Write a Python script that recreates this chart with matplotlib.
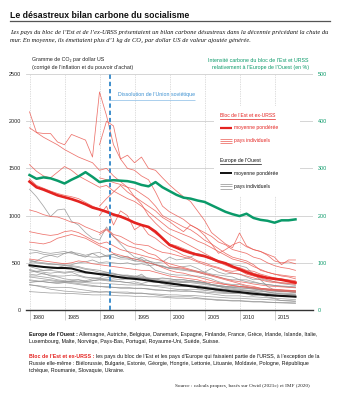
import numpy as np
import matplotlib
matplotlib.use("Agg")
import matplotlib.pyplot as plt
from matplotlib import font_manager as fm
from matplotlib import transforms
from matplotlib.patches import Rectangle
from matplotlib.lines import Line2D


def first_font(names, default):
    for n in names:
        try:
            fm.findfont(fm.FontProperties(family=n), fallback_to_default=False)
            return n
        except ValueError:
            continue
    return default


SANS = first_font(["Liberation Sans Narrow", "Liberation Sans"], "DejaVu Sans")
SERIF = first_font(["Liberation Serif"], "DejaVu Serif")
SANS_F = [SANS, "DejaVu Sans"]
SERIF_F = [SERIF, "DejaVu Serif"]
plt.rcParams["font.family"] = SANS_F

# ---------------------------------------------------------------- data
years = list(range(1980, 2019))
years_post = list(range(1990, 2019))

# weighted averages (g CO2 / USD)
east_avg = [1360, 1300, 1275, 1245, 1215, 1195, 1175, 1150, 1120, 1085,
            1065, 1040, 1010, 990, 960, 925, 900, 880, 830, 760,
            690, 660, 630, 605, 585, 570, 545, 515, 495, 460,
            430, 400, 375, 355, 340, 330, 320, 305, 290]
west_avg = [474, 465, 456, 450, 445, 445, 440, 420, 400, 390,
            380, 372, 358, 346, 336, 330, 322, 312, 302, 292,
            282, 272, 262, 252, 243, 234, 224, 214, 206, 196,
            190, 181, 173, 166, 159, 153, 149, 145, 141]
# east / west ratio (%)
ratio_pct = [286, 278, 281, 279, 274, 268, 276, 283, 292, 282,
             271, 274, 275, 274, 273, 270, 265, 262, 271, 260,
             252, 244, 238, 236, 232, 229, 222, 215, 208, 203,
             199, 204, 195, 191, 189, 185, 190, 190, 192]

# Eastern bloc countries with series from 1980
east_1980 = [
    [2100, 1880, 1870, 1870, 1780, 1750, 1860, 1830, 1800, 1620,
     2310, 2060, 1750, 1600, 1500, 1480, 1420, 1380, 1250, 1100,
     1040, 1000, 960, 900, 860, 820, 780, 720, 690, 640,
     620, 600, 560, 540, 500, 470, 450, 440, 420],
    [1930, 1880, 1830, 1790, 1750, 1700, 1660, 1620, 1590, 1560,
     1480, 1500, 1420, 1360, 1300, 1280, 1230, 1180, 1100, 1000,
     960, 920, 880, 850, 800, 740, 700, 650, 600, 560,
     540, 520, 480, 420, 400, 380, 360, 350, 330],
    [1540, 1470, 1420, 1400, 1460, 1520, 1480, 1420, 1380, 1340,
     1300, 1320, 1260, 1220, 1180, 1150, 1100, 1040, 980, 920,
     860, 830, 800, 770, 730, 700, 660, 620, 580, 540,
     520, 500, 460, 430, 400, 380, 370, 360, 350],
    [1390, 1320, 1290, 1260, 1235, 1215, 1200, 1180, 1140, 1100,
     1070, 1050, 1020, 1000, 965, 930, 905, 870, 810, 760,
     700, 680, 650, 620, 590, 565, 535, 505, 475, 445,
     440, 415, 390, 370, 345, 335, 325, 310, 300],
    [1060, 1040, 1010, 990, 985, 960, 930, 920, 880, 850,
     820, 860, 800, 780, 740, 700, 690, 680, 640, 610,
     600, 580, 560, 540, 510, 480, 460, 440, 410, 390,
     380, 360, 340, 320, 300, 290, 285, 280, 270],
    [830, 815, 800, 790, 800, 830, 840, 820, 780, 740,
     700, 720, 680, 640, 620, 600, 580, 560, 540, 520,
     490, 470, 450, 430, 410, 390, 370, 350, 330, 310,
     300, 290, 275, 265, 255, 250, 245, 240, 235],
    [720, 710, 700, 720, 760, 780, 800, 780, 760, 720,
     680, 650, 600, 580, 560, 540, 520, 500, 480, 450,
     420, 400, 390, 370, 350, 330, 310, 290, 270, 260,
     250, 240, 230, 220, 210, 205, 200, 195, 190],
    [540, 530, 520, 510, 500, 490, 500, 520, 510, 490,
     480, 470, 460, 450, 440, 430, 420, 420, 400, 380,
     360, 350, 340, 330, 320, 300, 290, 280, 270, 260,
     250, 245, 240, 230, 225, 220, 215, 210, 205],
]
# former Soviet republics, series from 1990
east_1990 = [
    [1750, 2000, 1950, 1600, 1640, 1560, 1620, 1500, 1480, 1400,
     1325, 1260, 1200, 1150, 1050, 950, 820, 760, 700, 660,
     816, 680, 640, 620, 590, 560, 480, 530, 530],
    [1100, 1180, 1250, 1320, 1250, 1200, 1150, 1100, 1050, 980,
     936, 880, 830, 900, 860, 790, 700, 600, 640, 690,
     720, 670, 640, 620, 580, 520, 500, 510, 490],
    [1400, 1380, 1350, 1330, 1300, 1200, 1120, 1000, 920, 850,
     800, 760, 720, 680, 640, 600, 560, 520, 480, 460,
     450, 420, 410, 380, 360, 340, 330, 320, 310],
    [800, 850, 780, 720, 680, 660, 640, 600, 580, 520,
     460, 450, 440, 420, 400, 380, 360, 340, 320, 300,
     280, 260, 250, 230, 220, 215, 210, 205, 200],
    [1000, 1100, 900, 1050, 1000, 850, 900, 800, 760, 700,
     650, 620, 580, 560, 520, 500, 470, 450, 420, 410,
     420, 380, 360, 340, 320, 300, 290, 285, 280],
]
# Western Europe countries
west_countries = [
    [1280, 1200, 1100, 990, 1060, 1070, 940, 900, 820, 760,
     740, 880, 780, 700, 620, 560, 540, 480, 420, 400,
     380, 370, 370, 360, 360, 350, 330, 300, 280, 270,
     270, 250, 230, 210, 190, 180, 170, 165, 160],
    [640, 630, 610, 600, 610, 620, 600, 580, 570, 560,
     560, 570, 560, 540, 540, 520, 510, 500, 480, 460,
     440, 430, 420, 410, 400, 380, 370, 350, 330, 320,
     320, 300, 290, 280, 270, 260, 250, 245, 240],
    [600, 610, 590, 580, 590, 600, 610, 600, 580, 600,
     560, 580, 590, 560, 570, 520, 560, 520, 480, 470,
     440, 450, 460, 470, 440, 400, 440, 400, 380, 390,
     380, 350, 320, 330, 310, 300, 280, 270, 260],
    [530, 510, 500, 490, 480, 470, 460, 450, 430, 420,
     400, 400, 390, 370, 360, 350, 340, 330, 310, 300,
     290, 280, 270, 265, 260, 250, 240, 230, 220, 210,
     210, 200, 195, 180, 170, 160, 150, 145, 140],
    [460, 440, 420, 420, 410, 400, 410, 400, 390, 390,
     380, 390, 380, 370, 370, 360, 360, 340, 330, 310,
     300, 300, 295, 300, 290, 280, 270, 260, 250, 250,
     250, 240, 235, 230, 220, 215, 210, 205, 200],
    [400, 410, 420, 430, 450, 470, 480, 500, 510, 530,
     500, 510, 500, 490, 500, 480, 490, 470, 480, 460,
     450, 440, 430, 420, 410, 400, 380, 370, 360, 350,
     320, 320, 300, 280, 270, 260, 255, 250, 245],
    [520, 500, 490, 480, 480, 480, 470, 460, 440, 430,
     420, 400, 380, 370, 360, 350, 350, 330, 320, 310,
     300, 295, 290, 290, 280, 270, 260, 250, 245, 240,
     240, 230, 225, 220, 210, 200, 195, 190, 185],
    [430, 410, 400, 390, 400, 390, 400, 370, 350, 340,
     340, 380, 350, 350, 360, 340, 380, 320, 300, 280,
     260, 250, 250, 260, 230, 210, 220, 200, 190, 190,
     190, 170, 150, 160, 140, 125, 120, 115, 110],
    [420, 400, 380, 370, 360, 360, 370, 360, 340, 340,
     330, 320, 310, 300, 290, 280, 270, 260, 250, 240,
     230, 220, 210, 200, 190, 180, 170, 160, 150, 150,
     150, 140, 140, 135, 130, 120, 100, 95, 90],
    [380, 370, 390, 360, 350, 330, 320, 320, 300, 310,
     320, 310, 300, 300, 290, 300, 280, 300, 290, 300,
     310, 310, 300, 310, 300, 290, 270, 250, 240, 230,
     220, 210, 200, 200, 190, 180, 180, 175, 170],
    [350, 340, 330, 320, 310, 300, 300, 295, 290, 285,
     285, 280, 275, 270, 265, 265, 265, 260, 260, 255,
     255, 250, 250, 255, 250, 240, 230, 225, 215, 210,
     205, 200, 190, 180, 175, 170, 170, 165, 160],
    [320, 310, 300, 290, 290, 290, 280, 270, 260, 250,
     250, 250, 240, 230, 230, 230, 230, 225, 215, 210,
     205, 210, 215, 220, 215, 210, 200, 190, 185, 180,
     180, 175, 170, 165, 160, 155, 155, 150, 150],
    [290, 300, 310, 310, 300, 300, 310, 320, 310, 330,
     330, 340, 350, 340, 340, 350, 340, 330, 330, 340,
     330, 320, 320, 310, 300, 290, 270, 260, 250, 240,
     230, 230, 220, 215, 215, 210, 205, 205, 200],
    [270, 255, 240, 220, 210, 200, 195, 190, 185, 190,
     190, 195, 185, 180, 175, 175, 175, 170, 170, 165,
     160, 160, 155, 155, 150, 145, 140, 135, 130, 125,
     125, 120, 115, 115, 110, 105, 100, 100, 95],
    [265, 260, 250, 240, 240, 240, 235, 220, 210, 200,
     190, 190, 190, 190, 190, 180, 180, 170, 160, 150,
     140, 140, 140, 140, 130, 120, 115, 110, 105, 100,
     100, 95, 90, 90, 85, 80, 80, 78, 75],
    [195, 190, 185, 180, 180, 175, 175, 170, 165, 160,
     160, 160, 155, 150, 150, 145, 145, 140, 140, 135,
     130, 125, 125, 120, 120, 115, 110, 100, 100, 95,
     95, 90, 85, 85, 80, 78, 75, 72, 70],
    [360, 360, 350, 340, 320, 310, 300, 300, 300, 310,
     320, 320, 330, 320, 330, 340, 330, 330, 330, 330,
     330, 320, 320, 310, 300, 290, 270, 250, 230, 220,
     210, 210, 210, 200, 200, 200, 195, 195, 190],
    [310, 300, 300, 290, 280, 290, 290, 280, 270, 260,
     250, 240, 240, 240, 240, 230, 230, 220, 210, 210,
     200, 200, 195, 200, 195, 190, 185, 180, 175, 175,
     175, 170, 165, 160, 155, 150, 145, 145, 140],
    [500, 520, 560, 580, 560, 600, 620, 580, 560, 600,
     610, 570, 590, 560, 550, 540, 530, 520, 500, 510,
     560, 530, 540, 560, 600, 580, 540, 520, 500, 480,
     470, 450, 380, 320, 250, 210, 200, 195, 190],
]

left_ticks = [0, 500, 1000, 1500, 2000, 2500]
right_ticks = [0, 100, 200, 300, 400, 500]
x_ticks = [1980, 1985, 1990, 1995, 2000, 2005, 2010, 2015]
dissolution_year = 1991.5

# ---------------------------------------------------------------- styles
RED = "#e42320"
RED_THIN = "#ea5a52"
GREY_THIN = "#8e8e8e"
GREEN = "#0a9a69"
BLUE = "#2f86c8"
TXT = "#222222"
SMALL = 3.75

W, H = 339, 399
fig = plt.figure(figsize=(W / 100, H / 100), dpi=100)
fig.patch.set_facecolor("white")


def fx(px):
    return px / W


def fy(py):
    return 1 - py / H


ax = fig.add_axes([fx(26), fy(310), fx(313) - fx(26), fy(74) - fy(310)])
ax.set_xlim(1979.5, 2020.5)
ax.set_ylim(0, 2500)
ax2 = ax.twinx()
ax2.set_ylim(0, 500)

for s in ["top", "left", "right"]:
    ax.spines[s].set_visible(False)
    ax2.spines[s].set_visible(False)
ax2.spines["bottom"].set_visible(False)
ax.spines["bottom"].set_color("#333333")
ax.spines["bottom"].set_linewidth(1.0)

ax.set_yticks(left_ticks)
ax.set_yticklabels([str(v) for v in left_ticks])
ax.tick_params(axis="y", length=0, pad=3.6, labelsize=3.9, labelcolor=TXT)
ax2.set_yticks(right_ticks)
ax2.set_yticklabels([str(v) for v in right_ticks])
ax2.tick_params(axis="y", length=0, pad=3.6, labelsize=3.9, labelcolor=GREEN)

ax.set_xticks(x_ticks)
ax.set_xticklabels([str(v) for v in x_ticks])
ax.tick_params(axis="x", length=7.5, width=0.5, color="#bbbbbb",
               pad=-4.2, labelsize=3.9, labelcolor=TXT)
shift = transforms.ScaledTranslation(2.2 / 72, 0, fig.dpi_scale_trans)
for lbl in ax.get_xticklabels():
    lbl.set_horizontalalignment("left")
    lbl.set_transform(lbl.get_transform() + shift)

ax.grid(axis="y", color="#cfcfcf", linewidth=0.6)
ax.grid(axis="x", color="#bdbdbd", linewidth=0.5, linestyle=(0, (1, 1.5)))
ax.set_axisbelow(True)

# individual countries
for vals in west_countries:
    ax.plot(years, vals, color=GREY_THIN, lw=0.55, alpha=0.8, zorder=2)
for vals in east_1980:
    ax.plot(years, vals, color=RED_THIN, lw=0.55, alpha=0.85, zorder=3)
for vals in east_1990:
    ax.plot(years_post, vals, color=RED_THIN, lw=0.55, alpha=0.85, zorder=3)

# weighted averages
ax.plot(years, west_avg, color="#111111", lw=1.5, zorder=5)
ax.plot(years, east_avg, color=RED, lw=1.9, zorder=6)
ax2.plot(years, ratio_pct, color=GREEN, lw=1.8, zorder=6)

# dissolution of the USSR
ax2.axvline(dissolution_year, color=BLUE, lw=1.3, ls=(0, (2.4, 1.6)), zorder=7)
ax.text(1992.6, 2285, "Dissolution de l\u2019Union soviétique", color="#3a8fd0",
        fontsize=SMALL, va="center", ha="left")
ax.plot([dissolution_year, 2003.7], [2224, 2224], color="#9cc7ea", lw=0.6,
        solid_capstyle="butt", zorder=4)

# ---------------------------------------------------------------- texts
fig.text(fx(10), fy(17.6), "Le désastreux bilan carbone du socialisme",
         fontsize=6.3, fontweight="bold", color="#111111", va="baseline")
fig.add_artist(Line2D([fx(10), fx(330)], [fy(21), fy(21)], color="#555555", lw=0.9))

fig.text(fx(10), fy(34.3),
         "Les pays du bloc de l\u2019Est et de l\u2019ex-URSS présentaient un bilan carbone désastreux "
         "dans la décennie précédant la chute du",
         family=SERIF_F, style="italic", fontsize=4.55, color="#111111", va="baseline")
fig.text(fx(10), fy(42.0),
         "mur. En moyenne, ils émettaient plus d\u20191 kg de CO\u2082 par dollar US de valeur ajoutée générée.",
         family=SERIF_F, style="italic", fontsize=4.55, color="#111111", va="baseline")

fig.text(fx(31.5), fy(60), "Gramme de CO\u2082 par dollar US", fontsize=SMALL, color=TXT, va="center")
fig.text(fx(31.5), fy(67), "(corrigé de l\u2019inflation et du pouvoir d\u2019achat)", fontsize=SMALL,
         color=TXT, va="center")
fig.text(fx(309), fy(60), "Intensité carbone du bloc de l\u2019Est et URSS", fontsize=SMALL,
         color=GREEN, va="center", ha="right")
fig.text(fx(309), fy(67), "relativement à l\u2019Europe de l\u2019Ouest (en %)", fontsize=SMALL,
         color=GREEN, va="center", ha="right")

# legend
fig.add_artist(Rectangle((fx(214), fy(196)), fx(300) - fx(214), fy(106) - fy(196),
                         facecolor="white", edgecolor="none", zorder=3))
renderer = fig.canvas.get_renderer()
inv = fig.transFigure.inverted()
LEG = 3.6


def underlined(px, py, text, color):
    t = fig.text(fx(px), fy(py), text, fontsize=LEG, color=color, va="center", zorder=4)
    bb = t.get_window_extent(renderer=renderer)
    (x0, y0), (x1, _) = inv.transform([(bb.x0, bb.y0), (bb.x1, bb.y0)])
    fig.add_artist(Line2D([x0, x1], [y0 - 0.8 / H, y0 - 0.8 / H], color=color, lw=0.5, zorder=4))


def legend_line(py, color, lw):
    fig.add_artist(Line2D([fx(220), fx(232)], [fy(py), fy(py)], color=color, lw=lw,
                          solid_capstyle="butt", zorder=4))


underlined(220, 115.5, "Bloc de l\u2019Est et ex-URSS", RED)
legend_line(127.8, RED, 1.6)
fig.text(fx(234), fy(127.8), "moyenne pondérée", fontsize=LEG, color=RED, va="center", zorder=4)
for yy in (138.6, 141.0, 143.4):
    legend_line(yy, RED_THIN, 0.5)
fig.text(fx(234), fy(141), "pays individuels", fontsize=LEG, color=RED, va="center", zorder=4)

underlined(220, 160.5, "Europe de l\u2019Ouest", "#111111")
legend_line(173.3, "#111111", 1.4)
fig.text(fx(234), fy(173.3), "moyenne pondérée", fontsize=LEG, color="#111111", va="center", zorder=4)
for yy in (184.0, 186.4, 188.8):
    legend_line(yy, GREY_THIN, 0.5)
fig.text(fx(234), fy(186.4), "pays individuels", fontsize=LEG, color="#111111", va="center", zorder=4)


# footnotes
def runs(px, py, parts, size=3.8):
    x = px
    for s, color, weight in parts:
        t = fig.text(fx(x), fy(py), s, fontsize=size, color=color, fontweight=weight, va="center")
        bb = t.get_window_extent(renderer=renderer)
        x += bb.width + 1.3


runs(29, 334.3, [("Europe de l\u2019Ouest :", "#111111", "bold"),
                 ("Allemagne, Autriche, Belgique, Danemark, Espagne, Finlande, France, Grèce, "
                  "Irlande, Islande, Italie,", "#111111", "normal")])
runs(29, 342, [("Luxembourg, Malte, Norvège, Pays-Bas, Portugal, Royaume-Uni, Suède, Suisse.",
                "#111111", "normal")])
runs(29, 356.7, [("Bloc de l\u2019Est et ex-URSS :", RED, "bold"),
                 ("les pays du bloc de l\u2019Est et les pays d\u2019Europe qui faisaient partie "
                  "de l\u2019URSS, à l\u2019exception de la", "#111111", "normal")])
runs(29, 363.8, [("Russie elle-même : Biélorussie, Bulgarie, Estonie, Géorgie, Hongrie, Lettonie, "
                  "Lituanie, Moldavie, Pologne, République", "#111111", "normal")])
runs(29, 370.9, [("tchèque, Roumanie, Slovaquie, Ukraine.", "#111111", "normal")])

fig.text(fx(310), fy(386), "Source : calculs propres, basés sur Owid (2021c) et IMF (2020)",
         family=SERIF_F, fontsize=3.8, color="#222222", va="center", ha="right")

fig.savefig("out.png", dpi=100)
